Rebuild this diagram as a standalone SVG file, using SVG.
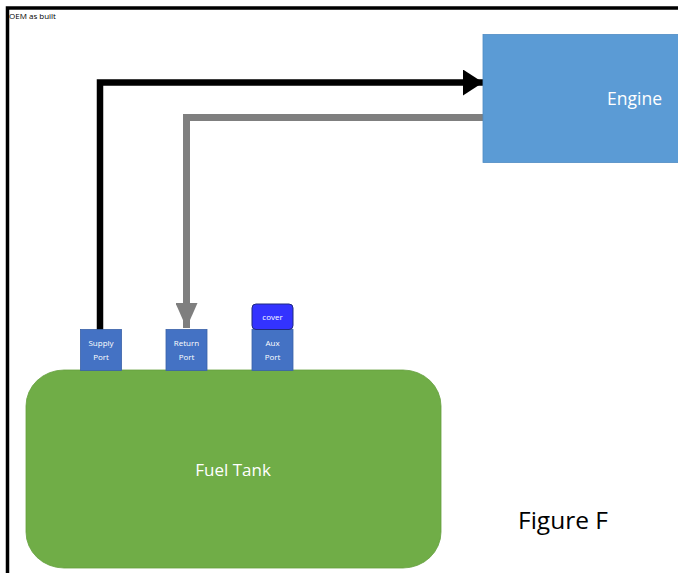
<svg xmlns="http://www.w3.org/2000/svg" width="678" height="573" viewBox="0 0 678 573">
  <style>
    .lbl { font-family: "Open Sans", "Liberation Sans", sans-serif; fill: #ffffff; text-anchor: middle; }
    .port { fill: #4472C4; stroke: #3A62A8; stroke-width: 0.8; }
    .port-t { font-size: 8px; }
  </style>
  <defs>
    <marker id="headBlack" markerUnits="userSpaceOnUse" markerWidth="20" markerHeight="26" refX="20" refY="13" orient="auto">
      <path d="M0,0 L20,13 L0,26 Z" fill="#000000"/>
    </marker>
    <marker id="headGray" markerUnits="userSpaceOnUse" markerWidth="25" markerHeight="22" refX="25" refY="11" orient="auto">
      <path d="M0,0 L25,11 L0,22 Z" fill="#7F7F7F"/>
    </marker>
  </defs>
  <rect width="678" height="573" fill="#ffffff"/>

  <!-- page frame -->
  <path d="M7.5,573 V8 H678" fill="none" stroke="#000000" stroke-width="3.5"/>
  <text x="9" y="19" font-family="Open Sans, Liberation Sans, sans-serif" font-size="8" fill="#000000">OEM as built</text>

  <g id="connectors">
    <path d="M100,330 V82.5 H483" fill="none" stroke="#000000" stroke-width="6.5" marker-end="url(#headBlack)"/>
    <path d="M483,117.5 H186.5 V328" fill="none" stroke="#7F7F7F" stroke-width="7" marker-end="url(#headGray)"/>
  </g>

  <g id="engine">
    <rect x="483" y="34.5" width="200" height="128" fill="#5B9BD5" stroke="#4F8CC4" stroke-width="0.8"/>
    <text class="lbl" x="634.5" y="105" font-size="17.5">Engine</text>
  </g>

  <g id="fuel-tank">
    <rect x="26" y="370" width="415" height="198" rx="38" ry="36" fill="#70AD47" stroke="#64A03E" stroke-width="0.8"/>
    <text class="lbl" x="233" y="476" font-size="17">Fuel Tank</text>
  </g>

  <g id="supply-port">
    <rect class="port" x="80.5" y="329.5" width="41" height="41"/>
    <text class="lbl port-t" x="101" y="346">Supply</text>
    <text class="lbl port-t" x="101" y="360">Port</text>
  </g>

  <g id="return-port">
    <rect class="port" x="166" y="329.5" width="41" height="41"/>
    <text class="lbl port-t" x="186.5" y="346">Return</text>
    <text class="lbl port-t" x="186.5" y="360">Port</text>
  </g>

  <g id="aux-port">
    <rect class="port" x="252" y="329.5" width="41" height="41"/>
    <text class="lbl port-t" x="272.5" y="346">Aux</text>
    <text class="lbl port-t" x="272.5" y="360">Port</text>
  </g>

  <g id="cover">
    <rect x="252" y="304" width="41" height="25.5" rx="4" fill="#3333FF" stroke="#1F2A80" stroke-width="1"/>
    <text class="lbl port-t" x="272.5" y="320">cover</text>
  </g>

  <text x="518" y="529" font-family="Open Sans, Liberation Sans, sans-serif" font-size="24.5" fill="#000000">Figure F</text>
</svg>
